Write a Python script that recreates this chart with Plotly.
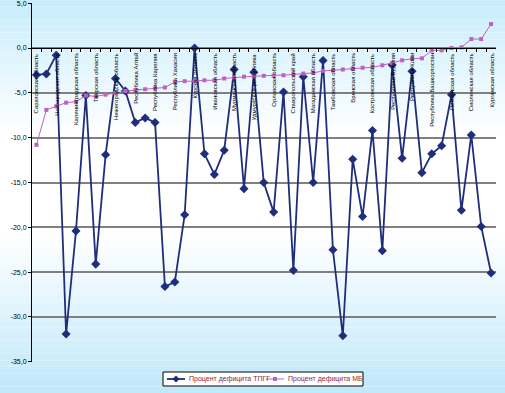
import plotly.graph_objects as go

categories = list(range(47))
tpgg = [-3.0, -2.9, -0.8, -31.9, -20.4, -5.3, -24.1, -11.9, -3.4, -4.8,
        -8.3, -7.8, -8.3, -26.6, -26.1, -18.6, 0.0, -11.8, -14.1, -11.4,
        -2.4, -15.7, -2.7, -15.0, -18.3, -4.9, -24.8, -3.2, -15.0, -1.4,
        -22.5, -32.1, -12.4, -18.8, -9.2, -22.6, -1.9, -12.3, -2.6, -13.9,
        -11.8, -10.9, -5.2, -18.1, -9.7, -19.9, -25.1]
mb = [-10.8, -6.9, -6.5, -6.1, -6.0, -5.3, -5.4, -5.2, -5.0, -4.8,
      -4.7, -4.6, -4.5, -4.4, -3.8, -3.7, -3.7, -3.6, -3.6, -3.4,
      -3.3, -3.2, -3.15, -3.1, -3.07, -3.04, -2.96, -2.85, -2.78, -2.55,
      -2.5, -2.4, -2.3, -2.2, -2.15, -1.93, -1.67, -1.37, -1.2, -1.15,
      -0.26, -0.26, 0.0, 0.07, 1.0, 1.0, 2.67]
label_names = ["Саратовская область", "Новгородская область", "Калининградская область",
               "Тверская область", "Нижегородская область", "Республика Алтай",
               "Республика Карелия", "Республика Хакасия", "Курская область",
               "Ивановская область", "Мурманская область", "Удмуртская республика",
               "Орловская область", "Ставропольский край", "Магаданская область",
               "Тамбовская область", "Брянская область", "Костромская область",
               "Республика Бурятия", "Республика Коми", "Республика Башкортостан",
               "Пензенская область", "Смоленская область", "Курганская область"]
label_pos = categories[::2]
series_names = ["Процент дефицита ТПГГ", "Процент дефицита МБ"]
ytick_vals = [5, 0, -5, -10, -15, -20, -25, -30, -35]
ytick_text = ["5,0", "0,0", "-5,0", "-10,0", "-15,0", "-20,0", "-25,0", "-30,0", "-35,0"]

BLUE = "#1f2d7b"
PINK = "#c060c0"

fig = go.Figure()
fig.add_trace(go.Scatter(x=categories, y=tpgg, mode="lines+markers",
                         name=series_names[0],
                         line=dict(color=BLUE, width=1.8),
                         marker=dict(symbol="diamond", size=7, color=BLUE)))
fig.add_trace(go.Scatter(x=categories, y=mb, mode="lines+markers",
                         name=series_names[1],
                         line=dict(color=PINK, width=1),
                         marker=dict(symbol="square", size=4, color=PINK)))

W, H = 505, 393
L, R, T, B = 32, 9, 3, 31
pw, ph = W - L - R, H - T - B
def px(X):
    return (X - L) / pw
def py(Y):
    return (H - B - Y) / ph

def col(yp):
    stops = [(0, (200, 236, 252)), (135, (255, 255, 255)), (235, (255, 255, 255)), (393, (190, 232, 250))]
    for (a, ca), (b, cb) in zip(stops[:-1], stops[1:]):
        if a <= yp <= b:
            t = (yp - a) / (b - a) if b > a else 0
            return "rgb(%d,%d,%d)" % tuple(round(ca[k] + (cb[k] - ca[k]) * t) for k in range(3))
    return "rgb(190,232,250)"

shapes = []
n = 60
for k in range(n):
    y0p = H * k / n
    y1p = H * (k + 1) / n
    shapes.append(dict(type="rect", xref="paper", yref="paper", layer="below",
                       x0=px(0), x1=px(W), y0=py(y1p), y1=py(y0p),
                       fillcolor=col((y0p + y1p) / 2), line=dict(width=0)))

# manual legend box
shapes.append(dict(type="rect", xref="paper", yref="paper", layer="above",
                   x0=px(163), x1=px(363), y0=py(386), y1=py(372),
                   fillcolor="white", line=dict(color="black", width=1)))
ly = 379
for (x0, x1, c, w) in [(167, 185, BLUE, 1.8), (266, 284, PINK, 1)]:
    shapes.append(dict(type="line", xref="paper", yref="paper", layer="above",
                       x0=px(x0), x1=px(x1), y0=py(ly), y1=py(ly),
                       line=dict(color=c, width=w)))
cx = 176
shapes.append(dict(type="path", xref="paper", yref="paper", layer="above",
                   path="M %f %f L %f %f L %f %f L %f %f Z" % (
                       px(cx), py(ly - 3.5), px(cx + 3.5), py(ly),
                       px(cx), py(ly + 3.5), px(cx - 3.5), py(ly)),
                   fillcolor=BLUE, line=dict(color=BLUE, width=0)))
cx = 275
shapes.append(dict(type="rect", xref="paper", yref="paper", layer="above",
                   x0=px(cx - 2), x1=px(cx + 2), y0=py(ly + 2), y1=py(ly - 2),
                   fillcolor=PINK, line=dict(color=PINK, width=0)))

annotations = [dict(x=p, y=0, xref="x", yref="y", text=t, showarrow=False,
                    textangle=-90, yanchor="top", xanchor="center", yshift=-3,
                    font=dict(size=6, color="black", family="Liberation Sans"))
               for p, t in zip(label_pos, label_names)]
for xs, t in [(187, series_names[0]), (286, series_names[1])]:
    annotations.append(dict(x=px(xs), y=py(ly), xref="paper", yref="paper", text=t,
                            showarrow=False, xanchor="left", yanchor="middle",
                            font=dict(size=7, color="#8a2840", family="Liberation Sans")))

fig.update_layout(
    width=W, height=H, margin=dict(l=L, r=R, t=T, b=B, autoexpand=False),
    paper_bgcolor="rgba(0,0,0,0)", plot_bgcolor="rgba(0,0,0,0)",
    shapes=shapes, annotations=annotations,
    font=dict(family="Liberation Sans", size=7, color="black"),
    showlegend=False,
    xaxis=dict(range=[-0.45, 46.5], anchor="free", position=35 / 40,
               showgrid=False, zeroline=False, showline=True, linecolor="black",
               linewidth=1, ticks="outside", ticklen=3, tickcolor="black",
               tickvals=[c + 0.5 for c in categories[:-1]], showticklabels=False),
    yaxis=dict(range=[-35.02, 5.02], tickvals=ytick_vals, ticktext=ytick_text,
               ticklabeloverflow="allow",
               showgrid=True, gridcolor="#808080", gridwidth=1.5, zeroline=False,
               showline=True, linecolor="black", linewidth=1, ticks="outside",
               ticklen=3, tickcolor="black", tickfont=dict(size=7, color="black")),
)
fig.write_html("out.html", post_script="document.body.style.margin='0';",
               config={"displayModeBar": False})
